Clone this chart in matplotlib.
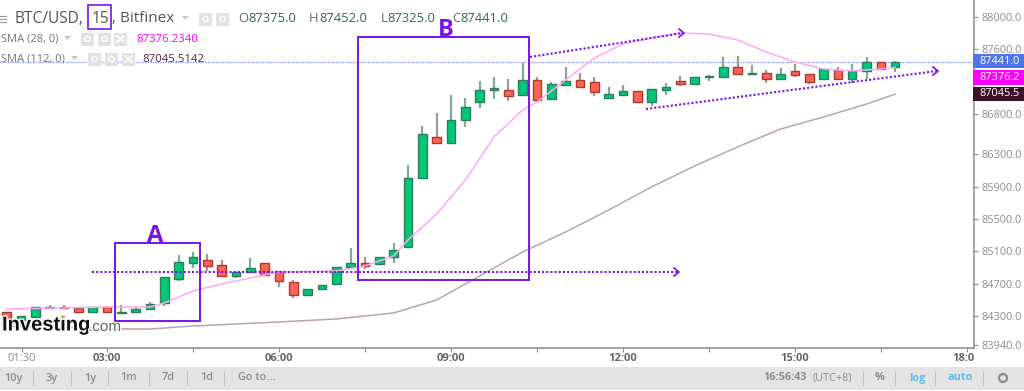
import numpy as np
import matplotlib
matplotlib.use("Agg")
import matplotlib.pyplot as plt
from matplotlib.patches import Rectangle
from matplotlib.transforms import Affine2D, Bbox
import matplotlib.patheffects as pe

# OHLC, one candle per 15 minutes
opens = [84351, 84252, 84289, 84400, 84412, 84400, 84351, 84412, 84338, 84351, 84388, 84462, 84759, 84957, 84994, 84932,
         84796, 84845, 84957, 84858, 84722, 84561, 84635, 84697, 84907, 84957, 84944, 85031, 85155, 86008, 86515, 86441,
         86726, 86948, 87097, 87097, 87035, 87220, 86985, 87159, 87220, 87196, 86998, 87035, 87084, 86948, 87097, 87208,
         87171, 87257, 87257, 87381, 87295, 87307, 87233, 87332, 87295, 87233, 87344, 87233, 87332, 87443, 87375]
highs = [84351, 84301, 84412, 84437, 84437, 84400, 84412, 84412, 84437, 84412, 84474, 84783, 85056, 85093, 85068, 84994,
         84845, 85018, 84957, 84858, 84746, 84635, 84685, 84907, 85142, 85031, 85031, 85204, 86169, 86651, 86812, 87035,
         86998, 87208, 87257, 87233, 87431, 87257, 87196, 87381, 87307, 87257, 87134, 87159, 87084, 87109, 87183, 87270,
         87257, 87282, 87505, 87517, 87406, 87344, 87369, 87418, 87295, 87356, 87381, 87418, 87505, 87443, 87452]
lows = [84190, 84252, 84289, 84400, 84400, 84351, 84351, 84351, 84338, 84351, 84388, 84425, 84734, 84895, 84858, 84796,
        84771, 84845, 84808, 84660, 84524, 84561, 84635, 84697, 84907, 84882, 84944, 84957, 85155, 86008, 86441, 86441,
        86639, 86874, 86985, 86961, 87035, 86973, 86985, 87159, 87134, 87022, 86998, 87035, 86948, 86899, 87035, 87146,
        87171, 87208, 87257, 87282, 87295, 87183, 87233, 87257, 87171, 87233, 87233, 87183, 87233, 87356, 87325]
closes = [84190, 84301, 84412, 84410, 84400, 84351, 84412, 84351, 84351, 84388, 84450, 84783, 84969, 85031, 84920, 84796,
          84845, 84895, 84808, 84734, 84561, 84635, 84685, 84907, 84957, 84920, 85031, 85118, 86008, 86552, 86441, 86726,
          86886, 87097, 87121, 87022, 87220, 86973, 87171, 87208, 87134, 87072, 87047, 87084, 86948, 87109, 87134, 87171,
          87257, 87270, 87381, 87295, 87307, 87233, 87295, 87282, 87196, 87356, 87233, 87332, 87443, 87356, 87441]

sma28_i = [0, 7, 10, 11, 13, 15, 17, 19, 23, 25, 27, 28, 30, 32, 34, 36, 37, 39, 41, 43, 45, 47, 49, 51, 53, 55, 57, 59, 61, 62]
sma28 = [84388, 84412, 84412, 84462, 84610, 84697, 84771, 84845, 84858, 84920, 85043, 85241, 85563, 85983, 86515, 86849,
         86948, 87220, 87493, 87666, 87740, 87802, 87789, 87715, 87567, 87443, 87356, 87332, 87356, 87376]
sma112_i = [0, 4, 7, 10, 13, 19, 23, 27, 30, 33, 36, 39, 42, 45, 48, 51, 54, 57, 60, 62]
sma112 = [84177, 84160, 84140, 84140, 84177, 84227, 84264, 84338, 84499, 84796, 85093, 85340, 85612, 85897, 86157, 86392,
          86614, 86763, 86923, 87045]

price_ticks = [88000, 87600, 86800, 86300, 85900, 85500, 85100, 84700, 84300, 83940]
time_ticks = [1.07, 7, 13, 19, 25, 31, 37, 43, 49, 55, 61, 67]
time_labels = ["01:30", "03:00", "", "06:00", "", "09:00", "", "12:00", "", "15:00", "", "18:00"]
range_labels = ["10y", "3y", "1y", "1m", "7d", "1d", "Go to..."]
range_x = [13, 52, 90, 129, 168, 207, 257]

plt.rcParams['font.family'] = ['Open Sans', 'DejaVu Sans']
W, H = 1024, 391
fig = plt.figure(figsize=(W / 100, H / 100), dpi=100, facecolor='white')
ax = fig.add_axes([0, 1 - 348 / H, 974 / W, 348 / H])
ax.set_xlim(-0.47, 67.5)
ax.set_ylim(83905, 88210)

# overlay drawn in image pixels, y going down
px = Affine2D().scale(1 / W, -1 / H).translate(0, 1) + fig.transFigure

GREEN, GREEN_E, RED, RED_E = '#00c878', '#2f7d5b', '#ff6354', '#a83c33'
PURPLE = '#7a12ea'
GREY = '#8c8c8c'

ax.axhline(87441, color='#7d93ee', lw=0.9, ls=(0, (1, 1)), zorder=1)

idx = np.arange(len(opens))
o, h, l, c = map(np.array, (opens, highs, lows, closes))
up = c >= o
ax.vlines(idx, l, h, colors=np.where(up, '#86a898', '#a09a94'), lw=1.6, zorder=2)
ax.bar(idx, np.maximum(np.abs(c - o), 12), bottom=np.minimum(o, c), width=0.6,
       color=np.where(up, GREEN, RED), edgecolor=np.where(up, GREEN_E, RED_E), lw=1, zorder=3)

ax.plot(sma28_i, sma28, color='#ffa6f8', lw=1.1, zorder=4)
ax.plot(sma112_i, sma112, color='#bba3b0', lw=1.1, zorder=4)

for s in ['top', 'left']:
    ax.spines[s].set_visible(False)
for s in ['right', 'bottom']:
    ax.spines[s].set_color('#8a8a8a')
    ax.spines[s].set_linewidth(1.1)

ax.yaxis.tick_right()
ax.set_yticks(price_ticks)
ax.set_yticklabels([f"{p}.0" for p in price_ticks], color=GREY, fontsize=7.9)
ax.tick_params(axis='y', length=3, width=0.8, color='#8a8a8a', pad=2.5)
ax.set_xticks(time_ticks)
ax.set_xticklabels([])
ax.tick_params(axis='x', length=3, width=0.8, color='#8a8a8a')

# the lowest price label is cut by the time strip
fig.add_artist(Rectangle((975, 349), 49, 18, transform=px, color='white', lw=0, zorder=4))

for t, lab in zip(time_ticks, time_labels):
    if not lab:
        continue
    bold = lab != "01:30"
    x = 107 + (t - 7) * 14.33
    txt = fig.text(x, 358.5, lab, transform=px, ha='center', va='center', fontsize=8,
                   color='#666666' if bold else GREY, fontweight='bold' if bold else 'normal')
    if lab == "18:00":
        txt.set_clip_box(Bbox.from_extents(0, 0, 974, H))
        txt.set_clip_on(True)

# last price tags
for y0, y1, col, lab in [(54, 68, '#4f75e8', "87441.0"), (70, 85, '#ff00ff', "87376.2"), (87, 101, '#3f0f2c', "87045.5")]:
    fig.add_artist(Rectangle((973, y0), 51, y1 - y0, transform=px, color=col, lw=0, zorder=5))
    fig.text(1000, (y0 + y1) / 2, lab, transform=px, color='white', fontsize=7.9, ha='center', va='center', zorder=6)

# hand drawn boxes and arrows
for x0, y0, x1, y1 in [(115, 243, 200, 321), (358, 37, 529, 280)]:
    fig.add_artist(Rectangle((x0, y0), x1 - x0, y1 - y0, transform=px, fill=False, ec=PURPLE, lw=1.4, zorder=7))
for x0, y0, x1, y1 in [(92, 272, 678, 272), (530, 57, 683, 33), (646, 109, 937, 71)]:
    fig.add_artist(plt.Line2D([x0, x1], [y0, y1], transform=px, color=PURPLE, lw=1.5, ls=(0, (1, 1)), zorder=7))
    fig.add_artist(plt.Line2D([x1 - 4, x1 + 1, x1 - 4], [y1 - 4, y1, y1 + 4], transform=px, color=PURPLE, lw=1.2, zorder=7))
fig.text(155, 236, "A", transform=px, color=PURPLE, fontsize=17, fontweight='bold', ha='center', va='center', zorder=7)
fig.text(446, 30, "B", transform=px, color=PURPLE, fontsize=17, fontweight='bold', ha='center', va='center', zorder=3)
fig.add_artist(Rectangle((88, 5), 23, 24, transform=px, fill=False, ec=PURPLE, lw=1.2, zorder=7))

# legend rows
def tri(x, y):
    fig.add_artist(plt.Polygon([[x, y - 2], [x + 7, y - 2], [x + 3.5, y + 2]], transform=px, color='#c8c8c8', lw=0))

def buttons(xs, y, s):
    for n, x in enumerate(xs):
        fig.add_artist(Rectangle((x, y - s / 2), s, s, transform=px, color='#e2e2e2', lw=0))
        if n < 2:
            fig.add_artist(plt.Circle((x + s / 2, y), 2.6, transform=px, fill=False, ec='white', lw=1))
        else:
            fig.add_artist(plt.Line2D([x + 3, x + s - 3], [y - 3, y + 3], transform=px, color='white', lw=1.2))
            fig.add_artist(plt.Line2D([x + 3, x + s - 3], [y + 3, y - 3], transform=px, color='white', lw=1.2))

for y in (16, 19, 22):
    fig.add_artist(plt.Line2D([0, 6], [y, y], transform=px, color='#999999', lw=0.8))
fig.text(14, 19, "BTC/USD,", transform=px, color='#555555', fontsize=11.2, va='center')
fig.text(92, 19, "15", transform=px, color='#555555', fontsize=11.2, va='center')
fig.text(112, 19, ", Bitfinex", transform=px, color='#555555', fontsize=11, va='center')
tri(182, 18)
buttons([199, 216], 19, 13)
for x, k, v, dx in [(238, "O", "87375.0", 10), (309, "H", "87452.0", 10), (381, "L", "87325.0", 6), (452, "C", "87441.0", 8)]:
    fig.text(x, 19, k, transform=px, color='#666666', fontsize=9.4, va='center')
    fig.text(x + dx, 19, v, transform=px, color='#2b6a4a', fontsize=9.4, va='center')

fig.text(1, 39, "SMA (28, 0)", transform=px, color='#777777', fontsize=8, va='center')
tri(64, 38)
buttons([81, 98, 114], 39, 13)
fig.text(136, 39, "87376.2340", transform=px, color='#ff00ff', fontsize=8.2, va='center')
fig.text(1, 59, "SMA (112, 0)", transform=px, color='#777777', fontsize=8, va='center')
tri(71, 58)
buttons([88, 105, 122], 59, 13)
fig.text(142, 59, "87045.5142", transform=px, color='#5a2344', fontsize=8.2, va='center')

# watermark
halo = [pe.withStroke(linewidth=2, foreground='white')]
fig.text(2, 325, "Investing", transform=px, family='Liberation Sans', color='#111111', fontsize=14.5, fontweight='bold',
         va='center', zorder=6, path_effects=halo)
fig.text(88, 327, ".com", transform=px, family='Liberation Sans', color='#666666', fontsize=11, va='center', zorder=6,
         path_effects=halo)
fig.add_artist(plt.Circle((63, 317), 1.5, transform=px, color='#f5a623', lw=0, zorder=7))

# bottom toolbar
fig.add_artist(Rectangle((0, 367), W, 23, transform=px, color='#e4e4e4', lw=0))
for x in [33, 71, 108, 149, 187, 224, 863, 895, 935, 983]:
    fig.add_artist(plt.Line2D([x, x], [371, 385], transform=px, color='#c4c4c4', lw=0.8))
for x, lab in zip(range_x, range_labels):
    fig.text(x, 378, lab, transform=px, color=GREY, fontsize=7.8, ha='center', va='center', fontweight='semibold')
fig.text(763, 378, "16:56:43", transform=px, color=GREY, fontsize=7.8, va='center', fontweight='bold')
fig.text(813, 378, "(UTC+8)", transform=px, color=GREY, fontsize=7.8, va='center')
fig.text(880, 378, "%", transform=px, color=GREY, fontsize=7.8, ha='center', va='center', fontweight='bold')
fig.text(917, 378, "log", transform=px, color='#5cbde8', fontsize=7.8, ha='center', va='center', fontweight='bold')
fig.text(960, 378, "auto", transform=px, color='#5cbde8', fontsize=7.8, ha='center', va='center', fontweight='bold')
fig.add_artist(plt.Circle((1003, 378), 4, transform=px, fill=False, ec='#8c8c8c', lw=1.6))

fig.savefig("out.png", dpi=100)
